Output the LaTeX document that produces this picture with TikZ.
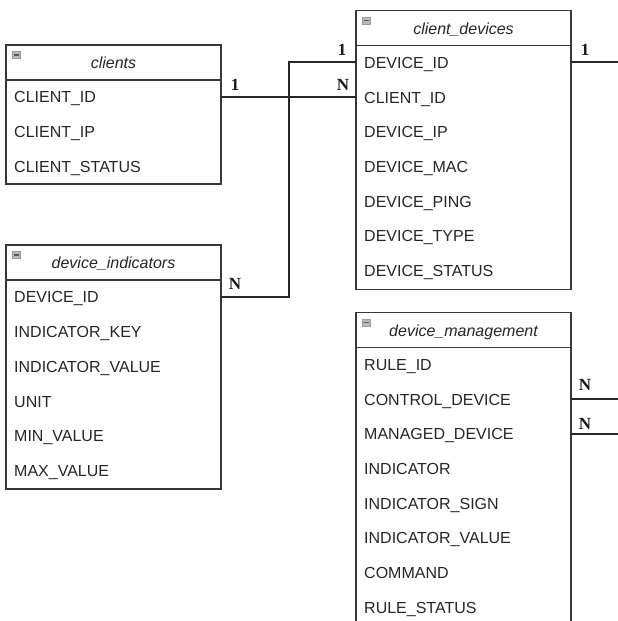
\documentclass[tikz,border=0pt]{standalone}
\usepackage{fontspec}
\setmainfont{Liberation Sans}
\newfontfamily\cardfont{Liberation Serif}

% one entity box: #1 name prefix, #2 left x, #3 top y, #4 title, #5 fields, #6 bottom y
\newcommand\erdtable[6]{%
  \draw[frame] (#2,#3) rectangle (#2+215,#6);
  \draw[frame] (#2,#3+35) -- (#2+215,#3+35);
  \node[title] (#1-t) at (#2+107.5,#3+17.5) {#4};
  \draw[fill=gray!55, draw=gray!80, line width=0.8pt] (#2+6.5,#3+6.5) rectangle (#2+14.5,#3+13.5);
  \draw[black!65, line width=1.3pt] (#2+7.8,#3+10) -- (#2+13.2,#3+10);
  \foreach \f [count=\i] in {#5}
    \node[field] (#1-\i) at (#2+8,#3+35+\i*34.7-17.35+5.6) {\f};
}

\begin{document}
\begin{tikzpicture}[x=1pt,y=-1pt,
  frame/.style={draw=black!78, line width=1.4pt},
  title/.style={font=\fontsize{16}{18}\selectfont\itshape, text=black!85,
    minimum width=215pt, minimum height=35pt, inner sep=0pt,
    text depth=0pt, text height=5pt, yshift=-3.5pt},
  field/.style={font=\fontsize{16}{18}\selectfont, text=black!85,
    anchor=base west, inner sep=0pt},
  link/.style={draw=black!85, line width=1.6pt},
  card/.style={font=\cardfont\bfseries\fontsize{17}{18}\selectfont,
    text=black!90, inner sep=0pt}]

\useasboundingbox (0,0) rectangle (618,621);
\clip (0,0) rectangle (618,621);
\fill[white] (0,0) rectangle (618,621);

\erdtable{cl}{6}{45}{clients}{CLIENT\_ID,CLIENT\_IP,CLIENT\_STATUS}{184}
\erdtable{cd}{356}{10.5}{client\_devices}{DEVICE\_ID,CLIENT\_ID,DEVICE\_IP,DEVICE\_MAC,DEVICE\_PING,DEVICE\_TYPE,DEVICE\_STATUS}{289.5}
\erdtable{di}{6}{245}{device\_indicators}{DEVICE\_ID,INDICATOR\_KEY,INDICATOR\_VALUE,UNIT,MIN\_VALUE,MAX\_VALUE}{489}
\erdtable{dm}{356}{312.5}{device\_management}{RULE\_ID,CONTROL\_DEVICE,MANAGED\_DEVICE,INDICATOR,INDICATOR\_SIGN,INDICATOR\_VALUE,COMMAND,RULE\_STATUS}{630}

% free ends leaving the sheet on the right
\coordinate (outA) at (620,62);
\coordinate (outB) at (620,399);
\coordinate (outC) at (620,434);

% relationships
\draw[link] (cl-t.east |- 0,97) -- (cd-t.west |- 0,97);
\draw[link] (di-t.east |- 0,297) -- ++(68,0) |- (cd-t.west |- outA);
\draw[link] (cd-t.east |- outA) -- (outA);
\draw[link] (dm-t.east |- outB) -- (outB);
\draw[link] (dm-t.east |- outC) -- (outC);

% cardinalities
\node[card] (k1) at (235,85) {1};
\node[card] (k2) at (343,85) {N};
\node[card] (k3) at (342,50) {1};
\node[card] (k4) at (235,284) {N};
\node[card] (k5) at (585,50) {1};
\node[card] (k6) at (585,385) {N};
\node[card] (k7) at (585,424) {N};
\end{tikzpicture}
\end{document}
